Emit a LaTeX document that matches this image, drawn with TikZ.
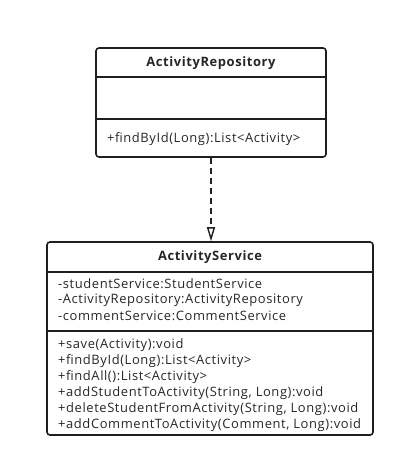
\documentclass[tikz,border=0pt]{standalone}
\usepackage{fontspec}
\setmainfont{Open Sans}[LetterSpace=4.5]
\usetikzlibrary{arrows.meta}

\tikzset{
  classbox/.style={draw=black!88, line width=1.6bp, rounded corners=3bp, inner sep=0pt},
  classname/.style={inner sep=0pt, text=black!85, font=\fontsize{13}{16}\selectfont\bfseries},
  member/.style={anchor=west, inner sep=0pt, text=black!85, font=\fontsize{13}{16}\selectfont},
  divider/.style={draw=black!88, line width=1.6bp},
  realizes/.style={draw=black!88, line width=1.6bp, dash pattern=on 6bp off 4bp,
    -{Triangle[open, length=14bp, width=8bp, line width=1.4bp]}},
}

\begin{document}
\begin{tikzpicture}[x=1bp, y=-1bp]
		\useasboundingbox (0,0) rectangle (406,468);
		%%%%% START %%%%%
		
		% ActivityRepository
		\node[classbox, minimum width=230bp, minimum height=109bp] (repo) at (211, 102.5) {};
		\node[classname] (reponame) at (211, 63) {ActivityRepository};
		\draw[divider] (96, 77) -- (326, 77);
		\draw[divider] (96, 119) -- (326, 119);
		\node[member] (repofind) at (107, 139) {+findById(Long):List<Activity>};
		
		% ActivityService
		\node[classbox, minimum width=326bp, minimum height=193bp] (svc) at (210, 338.5) {};
		\node[classname] (svcname) at (210, 257) {ActivityService};
		\draw[divider] (47, 272) -- (373, 272);
		\draw[divider] (47, 331) -- (373, 331);
		
		\node[member] (svcstudent) at (58, 284) {-studentService:StudentService};
		\node[member] (svcrepo) at (58, 300) {-ActivityRepository:ActivityRepository};
		\node[member] (svccomment) at (58, 316) {-commentService:CommentService};
		
		\node[member] (svcsave) at (58, 345) {+save(Activity):void};
		\node[member] (svcfind) at (58, 361) {+findById(Long):List<Activity>};
		\node[member] (svcfindall) at (58, 377) {+findAll():List<Activity>};
		\node[member] (svcadd) at (58, 393) {+addStudentToActivity(String, Long):void};
		\node[member] (svcdelete) at (58, 409) {+deleteStudentFromActivity(String, Long):void};
		\node[member] (svcaddcomment) at (58, 425) {+addCommentToActivity(Comment, Long):void};
		
		% dependency
		\draw[realizes] (repo.south) -- (repo.south |- svc.north);
		
		%%%%% END %%%%%
\end{tikzpicture}
\end{document}
